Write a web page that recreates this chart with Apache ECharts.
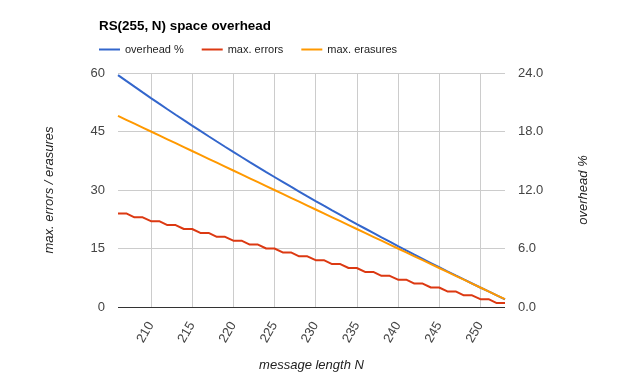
<!DOCTYPE html>
<html>
<head>
<meta charset="utf-8">
<script src="https://cdn.jsdelivr.net/npm/echarts@6/dist/echarts.min.js"></script>
<style>
html,body{margin:0;padding:0;background:#fff;}
#chart{width:623px;height:381px;}
</style>
</head>
<body>
<div id="chart"></div>
<script>
var messageLength = [206,207,208,209,210,211,212,213,214,215,216,217,218,219,220,221,222,223,224,225,226,227,228,229,230,231,232,233,234,235,236,237,238,239,240,241,242,243,244,245,246,247,248,249,250,251,252,253];
var overheadPct = [23.786,23.188,22.596,22.010,21.429,20.853,20.283,19.718,19.159,18.605,18.056,17.512,16.972,16.438,15.909,15.385,14.865,14.350,13.839,13.333,12.832,12.335,11.842,11.354,10.870,10.390,9.914,9.442,8.974,8.511,8.051,7.595,7.143,6.695,6.250,5.809,5.372,4.938,4.508,4.082,3.659,3.239,2.823,2.410,2.000,1.594,1.190,0.791];
var maxErrors = [24,24,23,23,22,22,21,21,20,20,19,19,18,18,17,17,16,16,15,15,14,14,13,13,12,12,11,11,10,10,9,9,8,8,7,7,6,6,5,5,4,4,3,3,2,2,1,1];
var maxErasures = [49,48,47,46,45,44,43,42,41,40,39,38,37,36,35,34,33,32,31,30,29,28,27,26,25,24,23,22,21,20,19,18,17,16,15,14,13,12,11,10,9,8,7,6,5,4,3,2];
var xTicks = [210,215,220,225,230,235,240,245,250];
var leftTicks = [0,15,30,45,60];
var rightTicks = [0,6,12,18,24];

function pairs(xs, ys){ return xs.map(function(x,i){ return [x, ys[i]]; }); }

var font = 'Arial, "Liberation Sans", sans-serif';
var chart = echarts.init(document.getElementById('chart'), null, {renderer:'canvas'});
chart.setOption({
  animation:false,
  backgroundColor:'#fff',
  textStyle:{fontFamily:font},
  title:{
    text:'RS(255, N) space overhead',
    left:94, top:15,
    textStyle:{fontFamily:font, fontSize:13.4, fontWeight:'bold', color:'#000'}
  },
  legend:{
    left:94, top:39,
    icon:'rect', itemWidth:21, itemHeight:2, itemGap:18,
    textStyle:{fontFamily:font, fontSize:11, color:'#222'},
    data:['overhead %','max. errors','max. erasures']
  },
  grid:{left:118, right:118, top:73, bottom:74, containLabel:false},
  xAxis:{
    type:'value', min:206, max:253,
    name:'message length N', nameLocation:'middle', nameGap:52,
    nameTextStyle:{fontFamily:font, fontSize:13, fontStyle:'italic', color:'#222'},
    axisLine:{show:false},
    axisTick:{show:false, customValues:xTicks},
    axisLabel:{customValues:xTicks, rotate:60, fontSize:13, color:'#444', margin:16, fontFamily:font},
    splitLine:{show:true, lineStyle:{color:'#cccccc', width:1}}
  },
  yAxis:[
    {
      type:'value', min:0, max:60, interval:15, position:'left',
      name:'max. errors / erasures', nameLocation:'middle', nameGap:62, nameRotate:90,
      nameTextStyle:{fontFamily:font, fontSize:13, fontStyle:'italic', color:'#222'},
      axisLine:{show:false}, axisTick:{show:false},
      axisLabel:{fontSize:13, color:'#444', margin:13, fontFamily:font},
      splitLine:{show:true, lineStyle:{color:'#cccccc', width:1}}
    },
    {
      type:'value', min:0, max:24, interval:6, position:'right',
      name:'overhead %', nameLocation:'middle', nameGap:72, nameRotate:90,
      nameTextStyle:{fontFamily:font, fontSize:13, fontStyle:'italic', color:'#222'},
      axisLine:{show:false}, axisTick:{show:false},
      axisLabel:{fontSize:13, color:'#444', margin:13, fontFamily:font, formatter:function(v){return v.toFixed(1);}},
      splitLine:{show:false}
    }
  ],
  series:[
    {name:'overhead %', type:'line', yAxisIndex:1, data:pairs(messageLength, overheadPct), showSymbol:false, symbol:'none', lineStyle:{width:2, color:'#3366cc'}, itemStyle:{color:'#3366cc'}, z:3},
    {name:'max. errors', type:'line', yAxisIndex:0, data:pairs(messageLength, maxErrors), showSymbol:false, symbol:'none', lineStyle:{width:2, color:'#dc3912'}, itemStyle:{color:'#dc3912'}, z:4},
    {name:'max. erasures', type:'line', yAxisIndex:0, data:pairs(messageLength, maxErasures), showSymbol:false, symbol:'none', lineStyle:{width:2, color:'#ff9900'}, itemStyle:{color:'#ff9900'}, z:5,
      markLine:{silent:true, symbol:'none', label:{show:false}, lineStyle:{color:'#333333', width:1, type:'solid'}, data:[{yAxis:0}], z:1}}
  ]
});
</script>
</body>
</html>
